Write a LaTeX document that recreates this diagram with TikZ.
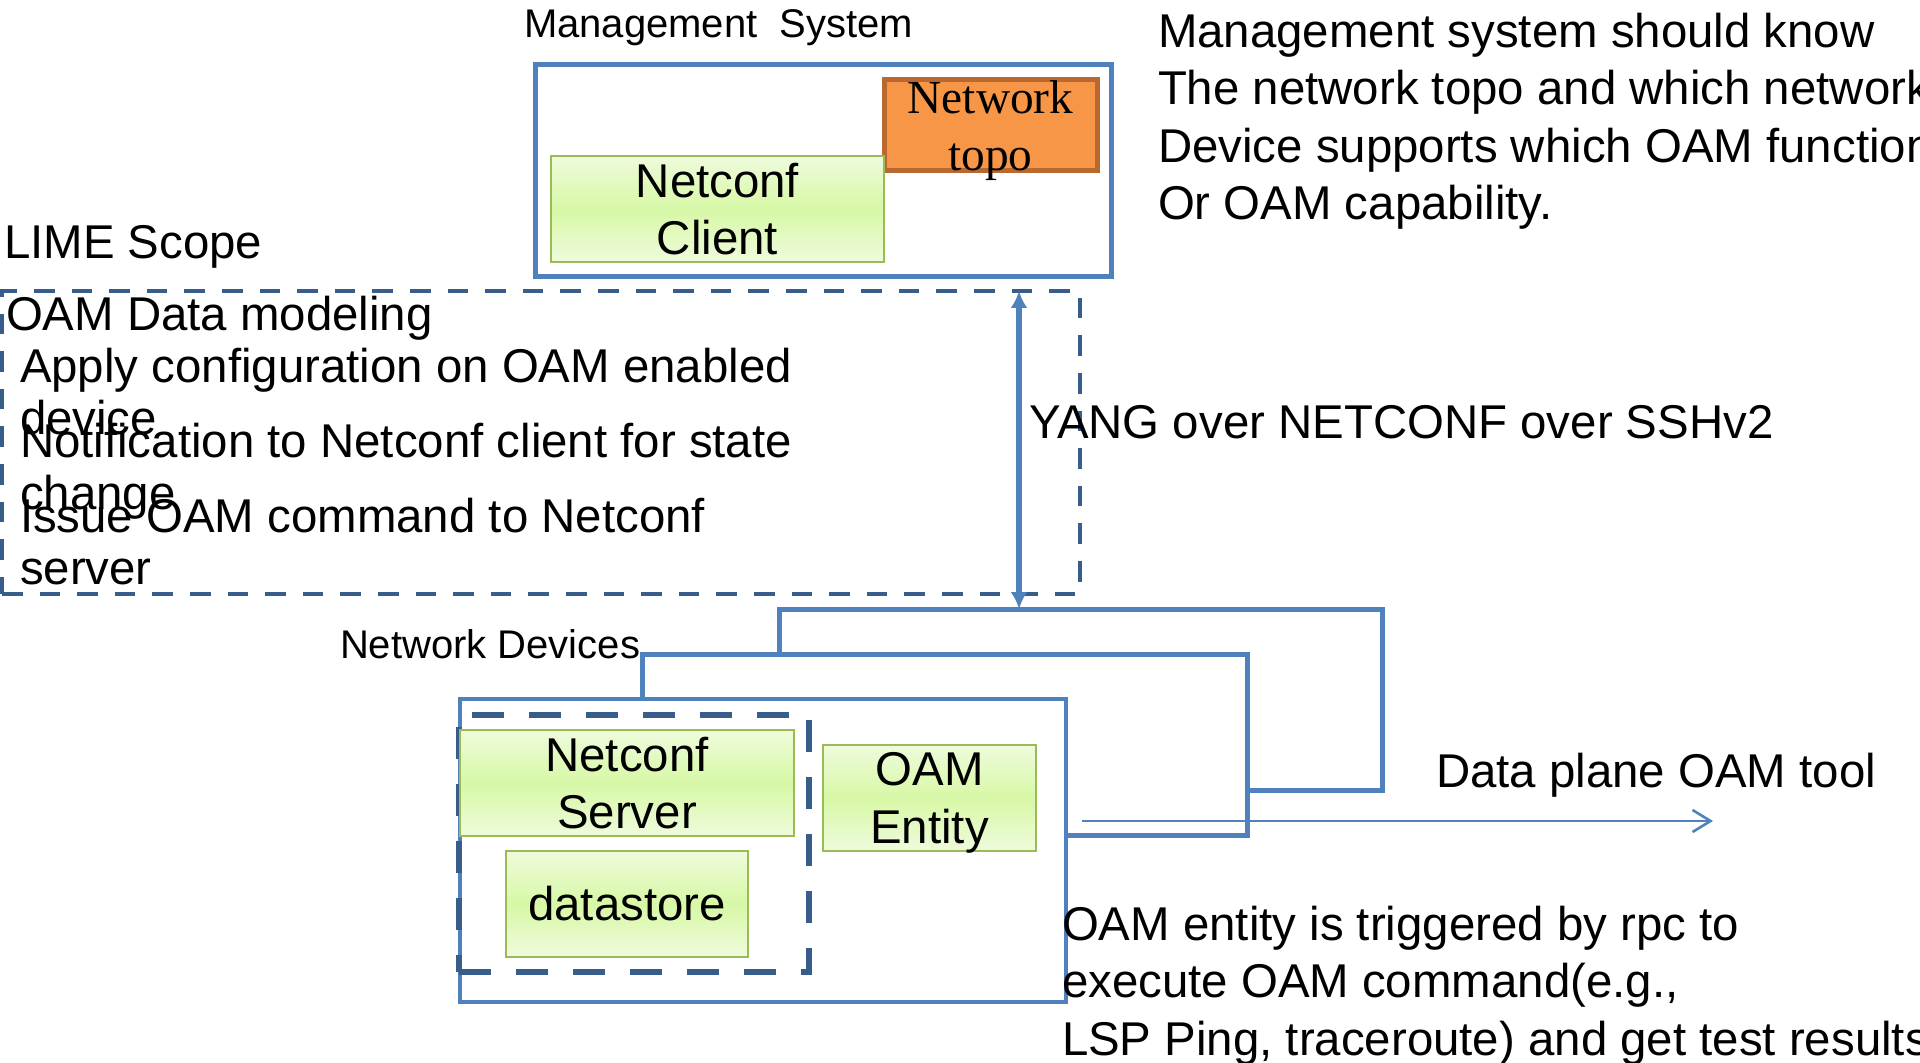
\documentclass[tikz,border=0pt]{standalone}
\usepackage{fontspec}
\setmainfont{Liberation Sans}
\newfontfamily\topofont{Liberation Serif}
\usetikzlibrary{arrows.meta,positioning}
\definecolor{LineBlue}{RGB}{79,129,189}
\definecolor{ScopeBlue}{RGB}{56,93,138}
\definecolor{EdgeGreen}{RGB}{155,187,89}
\definecolor{FillGreenTop}{RGB}{239,251,220}
\definecolor{FillGreenMid}{RGB}{215,248,166}
\definecolor{TopoOrange}{RGB}{247,150,70}
\definecolor{TopoEdge}{RGB}{185,104,48}

\begin{document}
\begin{tikzpicture}[
    x=0.5pt, y=-0.5pt,
    every node/.style={inner sep=0pt, outer sep=0pt},
    bigtext/.style={font=\fontsize{23.7}{28.7}\selectfont, align=left},
    smalltext/.style={font=\fontsize{20}{24}\selectfont},
    sysbox/.style={draw=LineBlue, line width=2.5pt},
    unit/.style={draw=EdgeGreen, line width=1.1pt, top color=FillGreenTop,
                 bottom color=FillGreenTop, middle color=FillGreenMid,
                 align=center, font=\fontsize{23.7}{28.8}\selectfont},
    limebox/.style={draw=ScopeBlue, line width=2.4pt, dash pattern=on 10.3pt off 8.5pt},
    innerbox/.style={draw=ScopeBlue, line width=3.4pt, dash pattern=on 16pt off 12.5pt},
    link/.style={draw=LineBlue, line width=2.5pt},
    biarr/.style={{Latex[length=8.5pt,width=8.5pt]}-{Latex[length=8.5pt,width=8.5pt]},
                  draw=LineBlue, line width=3pt},
    probe/.style={-{Straight Barb[length=9pt,width=11pt,line width=1.3pt]},
                  draw=LineBlue, line width=1pt}
]
    \useasboundingbox (0,0) rectangle (1920,1063);

    % management side
    \node[sysbox, minimum width=288pt, minimum height=106pt] (mgmt) at (823,171) {};
    \node[smalltext, anchor=base west] (mgmtlabel) at (524,38) {Management\ \ System};
    \node[draw=TopoEdge, line width=2.5pt, fill=TopoOrange, minimum width=106.5pt,
          minimum height=45.5pt, align=center, text depth=0pt,
          font=\topofont\fontsize{23.7}{28.5}\selectfont] (topo) at (990.5,125.5) {Network\\topo};
    \node[unit, minimum width=166.5pt, minimum height=53pt] (client) at (717.5,209) {Netconf\\Client};
    \node[bigtext, anchor=north west] (mgmtnote) at (1158,13)
        {Management system should know\\The network topo and which network\\Device supports which OAM function\\Or OAM capability.};

    % LIME scope
    \node[bigtext, anchor=base west] (limelabel) at (4,259) {LIME Scope};
    \node[limebox, minimum width=539pt, minimum height=151.5pt] (lime) at (541,442.5) {};
    \node[bigtext, anchor=base west] (datamodel) at (6,331) {OAM Data modeling};
    \node[bigtext, anchor=north west, font=\fontsize{23.7}{26.2}\selectfont] (applycfg) at (20,348)
        {Apply configuration on OAM enabled\\device};
    \node[bigtext, anchor=north west, font=\fontsize{23.7}{26.2}\selectfont] (notify) at (20,423)
        {Notification to Netconf client for state\\change};
    \node[bigtext, anchor=north west, font=\fontsize{23.7}{26.2}\selectfont] (issue) at (20,498)
        {Issue OAM command to Netconf\\server};

    % network device
    \node[smalltext, anchor=base west] (devlabel) at (340,658) {Network Devices};
    \node[sysbox, line width=2pt, minimum width=303pt, minimum height=151.5pt] (device) at (763,850.5) {};
    \node[innerbox, minimum width=175pt, minimum height=128.5pt] (agent) at (634,843.5) {};
    \node[unit, minimum width=167pt, minimum height=53pt] (server) at (627,783) {Netconf\\Server};
    \node[unit, minimum width=121pt, minimum height=53pt] (store) at (627,904) {datastore};
    \node[unit, minimum width=106.5pt, minimum height=53pt, text depth=0pt] (entity) at (929.5,798) {OAM\\Entity};

    % links
    \coordinate (ringA) at (1247,654);
    \coordinate (tapB) at (779,654);
    \coordinate (ringB) at (1382,609);
    \coordinate (tapC) at (1247,790);
    \draw[link] ([xshift=91pt]device.north west) |- (ringA) |- ([yshift=7.75pt]device.east);
    \draw[link] (tapB) |- (ringB) |- (tapC);

    \coordinate (yangtop) at (1019,291);
    \coordinate (yangbot) at (1019,609);
    \draw[biarr] (yangtop) -- (yangbot);
    \node[bigtext, anchor=base west] (yang) at (1029,439) {YANG over NETCONF over SSHv2};

    \coordinate (oamout) at (1082,821);
    \coordinate (oamend) at (1713,821);
    \draw[probe] (oamout) -- (oamend);
    \node[bigtext, anchor=base west] (dataplane) at (1436,787) {Data plane OAM tool};
    \node[bigtext, anchor=north west] (entitynote) at (1062,906)
        {OAM entity is triggered by rpc to\\execute OAM command(e.g.,\\LSP Ping, traceroute) and get test results};
\end{tikzpicture}
\end{document}
